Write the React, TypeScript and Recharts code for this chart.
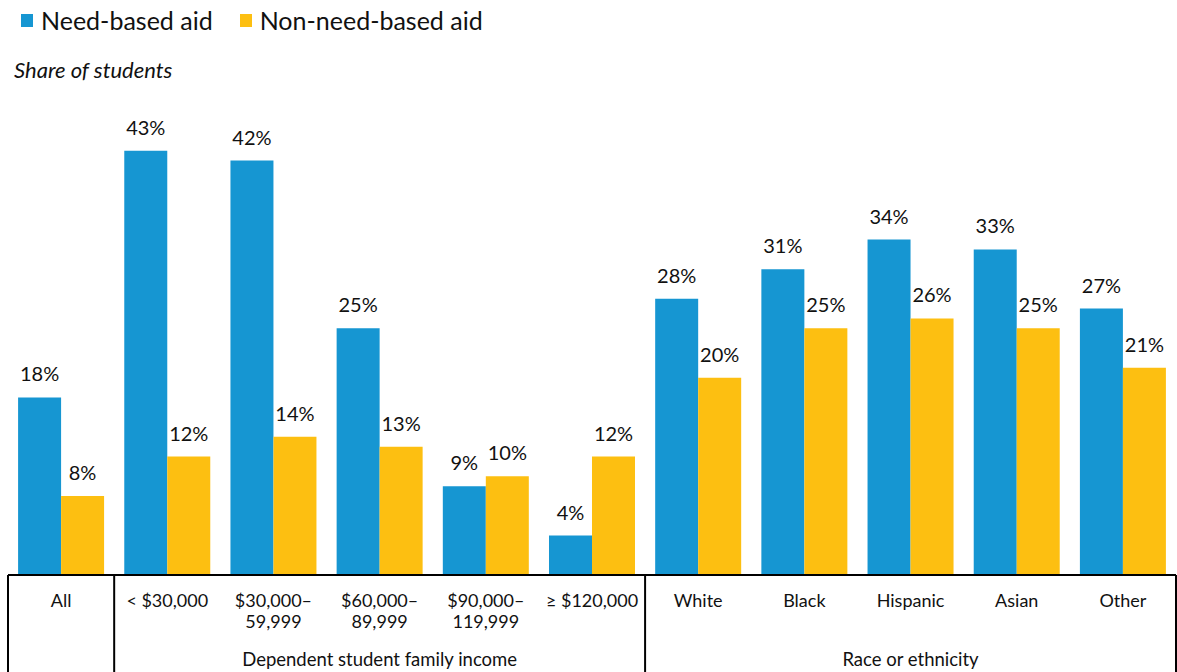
import { BarChart, Bar, XAxis, YAxis, LabelList } from 'recharts';

const categories = ['All', '< $30,000', '$30,000–\n59,999', '$60,000–\n89,999', '$90,000–\n119,999', '≥ $120,000', 'White', 'Black', 'Hispanic', 'Asian', 'Other'];
const needBased = [18, 43, 42, 25, 9, 4, 28, 31, 34, 33, 27];
const nonNeedBased = [8, 12, 14, 13, 10, 12, 20, 25, 26, 25, 21];
const groups = [
  { label: 'Dependent student family income', centerIndex: 3 },
  { label: 'Race or ethnicity', centerIndex: 8 },
];
// band edges that get a vertical border (right side of these indexes)
const dividerAfter = [0, 5, 10];

const data = categories.map((name, i) => ({ name, need: needBased[i], nonNeed: nonNeedBased[i] }));

const W = 1177;
const H = 672;
const MARGIN = { top: 131, right: 1, left: 8, bottom: 0 };
const AXIS_H = 97;
const AXIS_TOP = H - AXIS_H;
const BAND = (W - MARGIN.left - MARGIN.right) / categories.length;
const FONT = 'Lato, "Open Sans", sans-serif';

const BLUE = '#1696d2';
const YELLOW = '#fdbf11';

function TableTick(props: any) {
  const { x, payload } = props;
  const i = payload.index;
  const lines = String(payload.value).split('\n');
  const half = BAND / 2;
  const group = groups.find(g => g.centerIndex === i);
  return (
    <g>
      {lines.map((ln, k) => (
        <text key={k} x={x} y={AXIS_TOP + 32 + k * 21} textAnchor="middle" fontSize={18} fontFamily={FONT} fill="#111">
          {ln}
        </text>
      ))}
      {i === 0 && <line x1={x - half} x2={x - half} y1={AXIS_TOP} y2={H} stroke="#000" strokeWidth={2} />}
      {dividerAfter.includes(i) && <line x1={x + half} x2={x + half} y1={AXIS_TOP} y2={H} stroke="#000" strokeWidth={2} />}
      {group && (
        <text x={x} y={AXIS_TOP + 91} textAnchor="middle" fontSize={18.5} fontFamily={FONT} fill="#111">
          {group.label}
        </text>
      )}
    </g>
  );
}

export default function App() {
  return (
    <div style={{ position: 'absolute', left: 0, top: 0, width: W, height: H, fontFamily: FONT, background: '#fff' }}>
      <div style={{ position: 'absolute', left: 21, top: 4, display: 'flex', alignItems: 'center', fontSize: 25, lineHeight: '32px', color: '#111', whiteSpace: 'nowrap' }}>
        <span style={{ display: 'inline-block', width: 12, height: 13, background: BLUE, marginRight: 8 }} />
        <span>Need-based aid</span>
        <span style={{ display: 'inline-block', width: 12, height: 13, background: YELLOW, marginLeft: 27, marginRight: 8 }} />
        <span>Non-need-based aid</span>
      </div>
      <div style={{ position: 'absolute', left: 14, top: 56, fontSize: 22, lineHeight: '28px', fontStyle: 'italic', color: '#111' }}>
        Share of students
      </div>
      <BarChart width={W} height={H} data={data} margin={MARGIN} barCategoryGap="9.5%" barGap={0}>
        <YAxis hide domain={[0, 45]} />
        <XAxis
          dataKey="name"
          height={AXIS_H}
          interval={0}
          tickLine={false}
          tickSize={0}
          tickMargin={0}
          axisLine={{ stroke: '#000', strokeWidth: 2 }}
          tick={<TableTick />}
        />
        <Bar dataKey="need" fill={BLUE} isAnimationActive={false}>
          <LabelList dataKey="need" position="top" offset={16} formatter={(v: any) => `${v}%`} style={{ fontSize: 20, fontFamily: FONT, fill: '#111' }} />
        </Bar>
        <Bar dataKey="nonNeed" fill={YELLOW} isAnimationActive={false}>
          <LabelList dataKey="nonNeed" position="top" offset={16} formatter={(v: any) => `${v}%`} style={{ fontSize: 20, fontFamily: FONT, fill: '#111' }} />
        </Bar>
      </BarChart>
    </div>
  );
}
